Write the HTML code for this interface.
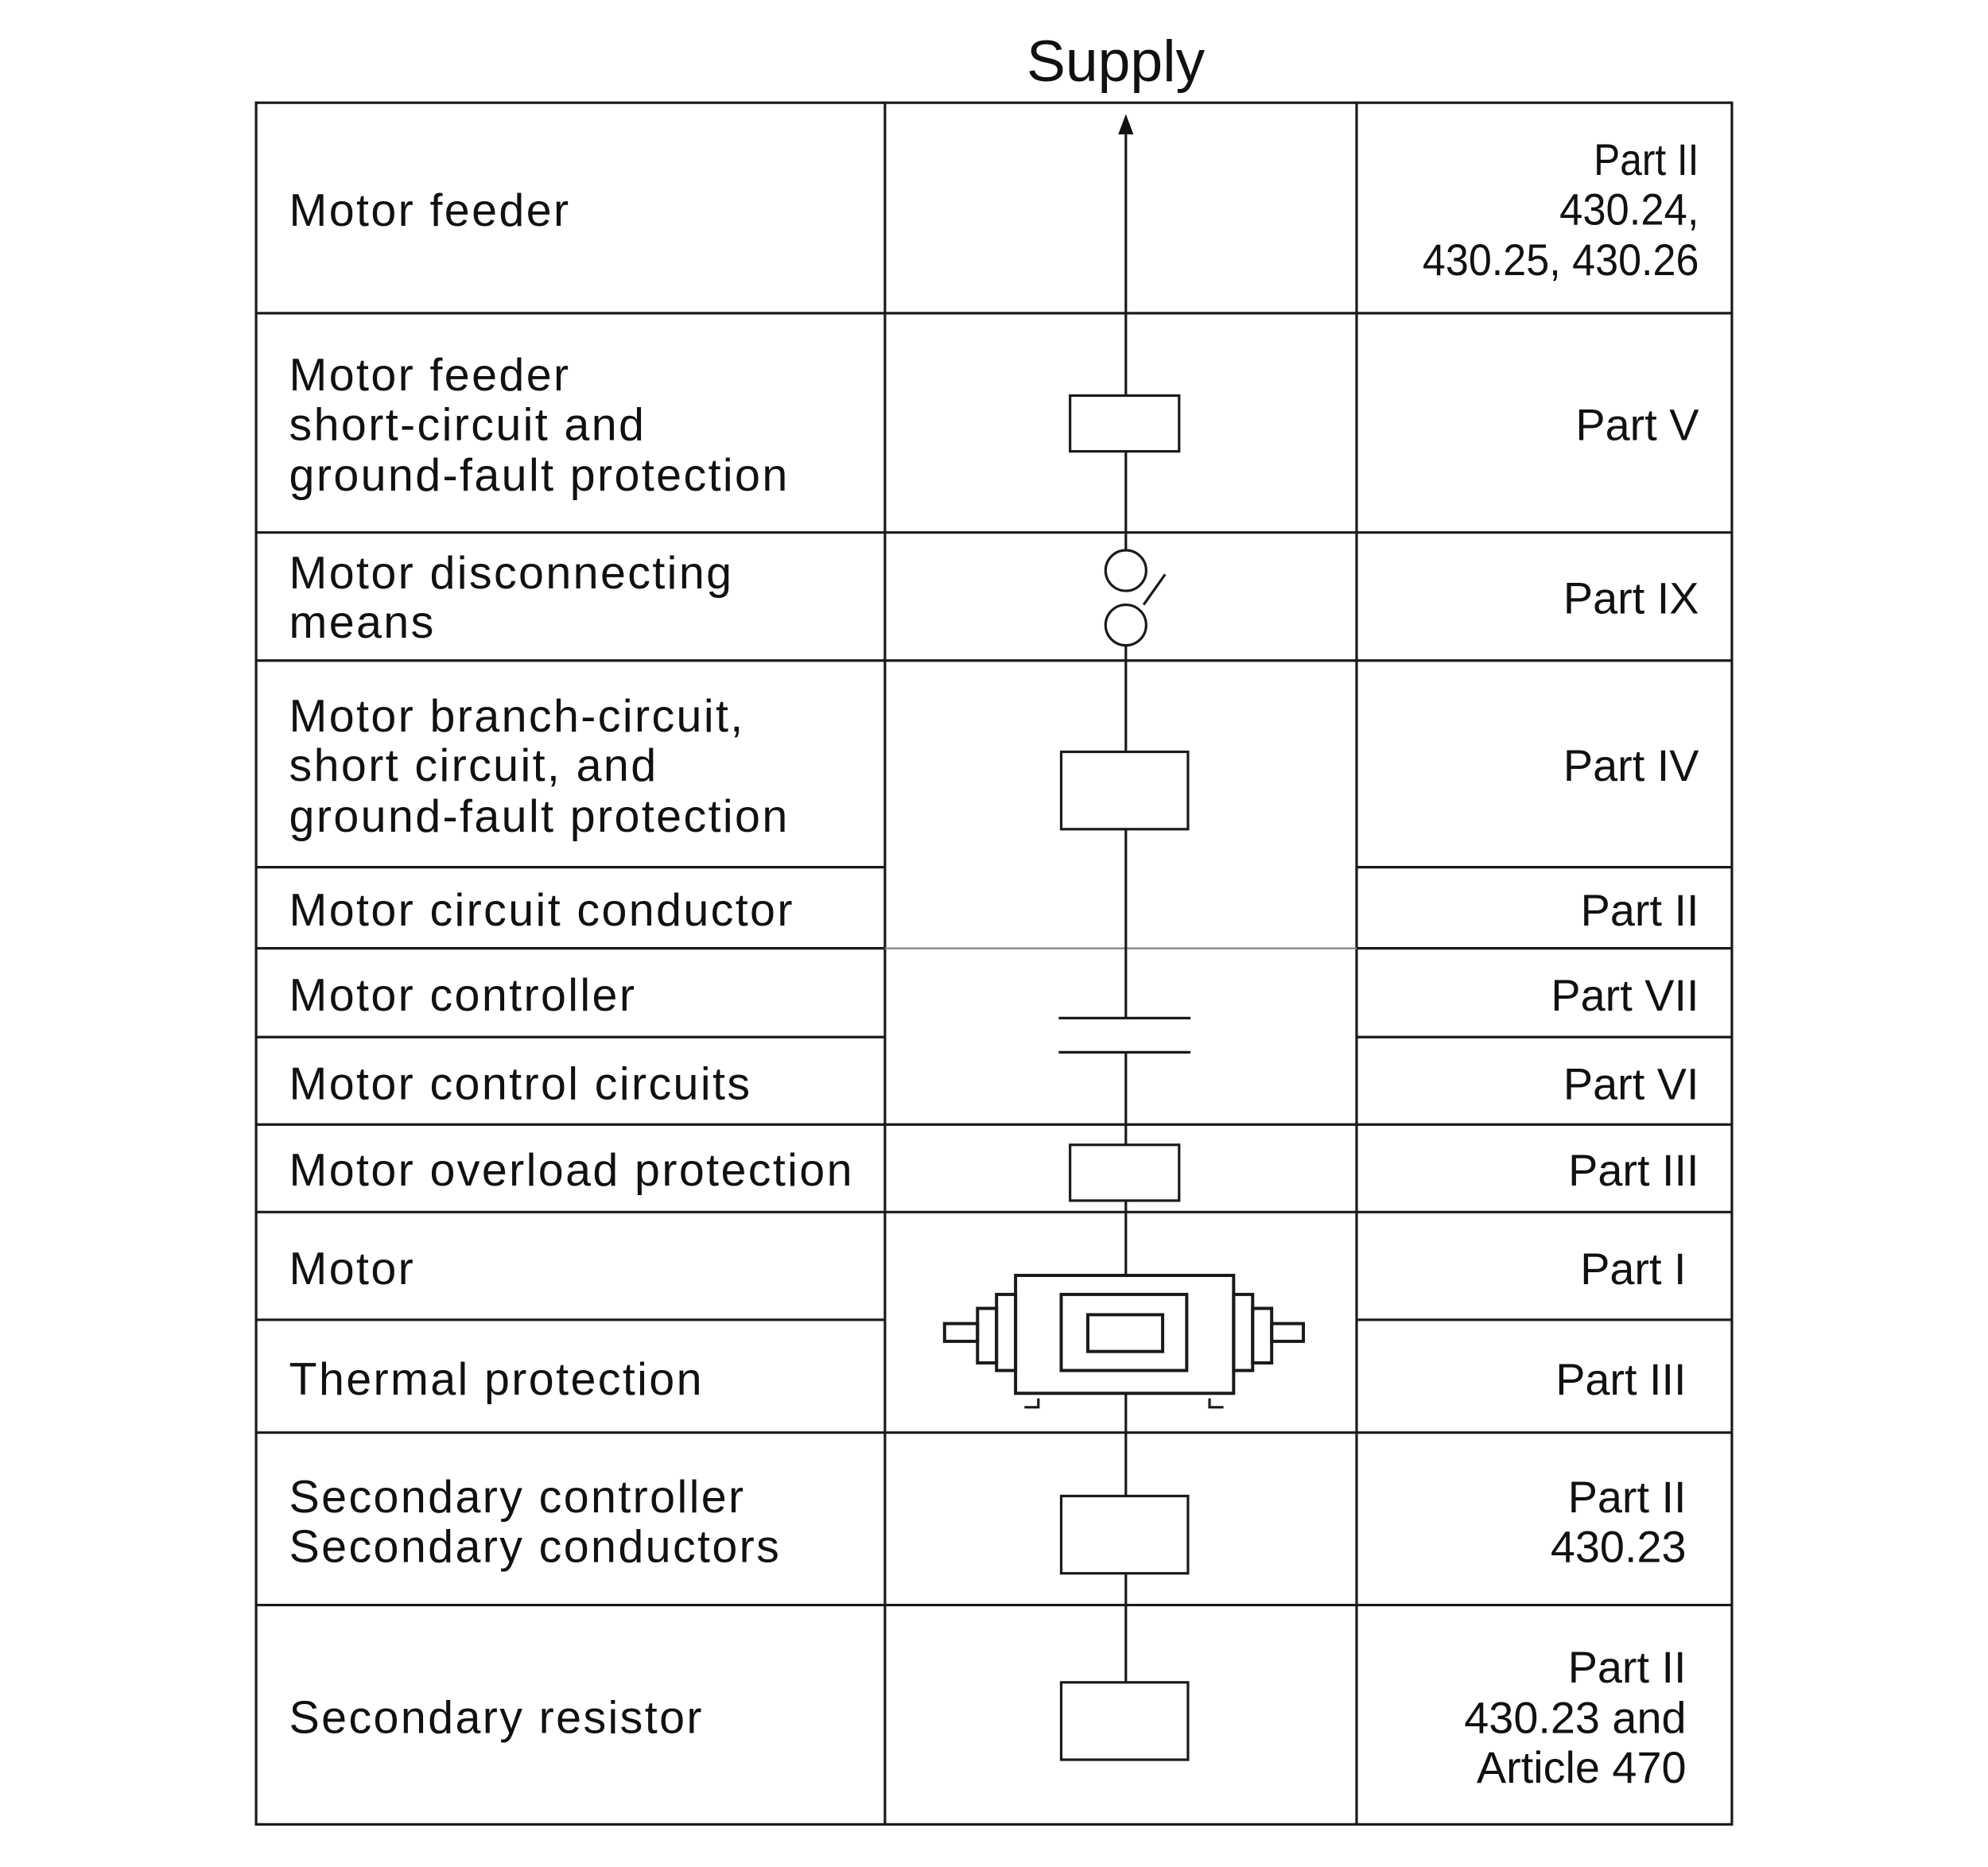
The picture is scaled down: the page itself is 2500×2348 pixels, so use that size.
<!DOCTYPE html>
<html><head><meta charset="utf-8"><style>html,body{margin:0;padding:0;background:#fff}svg{display:block}</style></head>
<body>
<svg width="2500" height="2348" viewBox="0 0 1568 1472.6" xmlns="http://www.w3.org/2000/svg" font-family="Liberation Sans, sans-serif" fill="#111">
<rect width="1568" height="1473" fill="#fff"/>
<g stroke="#1a1a1a" stroke-width="2" fill="none">
<rect x="202" y="81" width="1164" height="1358"/>
<line x1="698" y1="81" x2="698" y2="1439"/>
<line x1="1070" y1="81" x2="1070" y2="1439"/>
<line x1="202" y1="247" x2="1366" y2="247"/>
<line x1="202" y1="420" x2="1366" y2="420"/>
<line x1="202" y1="521" x2="1366" y2="521"/>
<line x1="202" y1="684" x2="698" y2="684"/><line x1="1070" y1="684" x2="1366" y2="684"/>
<line x1="202" y1="748" x2="698" y2="748"/><line x1="1070" y1="748" x2="1366" y2="748"/>
<line x1="698" y1="748" x2="1070" y2="748" stroke="#888" stroke-width="1.5"/>
<line x1="202" y1="818" x2="698" y2="818"/><line x1="1070" y1="818" x2="1366" y2="818"/>
<line x1="202" y1="887" x2="1366" y2="887"/>
<line x1="202" y1="956" x2="1366" y2="956"/>
<line x1="202" y1="1041" x2="698" y2="1041"/><line x1="1070" y1="1041" x2="1366" y2="1041"/>
<line x1="202" y1="1130" x2="1366" y2="1130"/>
<line x1="202" y1="1266" x2="1366" y2="1266"/>
<line x1="888" y1="100" x2="888" y2="312"/>
<line x1="888" y1="356" x2="888" y2="434"/>
<line x1="888" y1="509" x2="888" y2="593"/>
<line x1="888" y1="654" x2="888" y2="803"/>
<line x1="888" y1="830" x2="888" y2="903"/>
<line x1="888" y1="947" x2="888" y2="1006"/>
<line x1="888" y1="1099" x2="888" y2="1180"/>
<line x1="888" y1="1241" x2="888" y2="1327"/>
<rect x="844" y="312" width="86" height="44"/>
<circle cx="888" cy="450" r="16"/>
<circle cx="888" cy="493" r="16"/>
<line x1="902" y1="477" x2="919" y2="453"/>
<rect x="837" y="593" width="100" height="61"/>
<line x1="835" y1="803" x2="939" y2="803"/>
<line x1="835" y1="830" x2="939" y2="830"/>
<rect x="844" y="903" width="86" height="44"/>
<rect x="801" y="1006" width="172" height="93" stroke-width="2.5"/>
<rect x="837" y="1021" width="99" height="60" stroke-width="2.5"/>
<rect x="858" y="1037" width="59" height="29" stroke-width="2.5"/>
<rect x="786" y="1021" width="15" height="60" stroke-width="2.5"/>
<rect x="771" y="1032" width="15" height="43" stroke-width="2.5"/>
<rect x="745" y="1044" width="26" height="14" stroke-width="2.5"/>
<rect x="973" y="1021" width="15" height="60" stroke-width="2.5"/>
<rect x="988" y="1032" width="15" height="43" stroke-width="2.5"/>
<rect x="1003" y="1044" width="25" height="14" stroke-width="2.5"/>
<polyline points="808,1110 819,1110 819,1103"/>
<polyline points="954,1103 954,1110 965,1110"/>
<rect x="837" y="1180" width="100" height="61"/>
<rect x="837" y="1327" width="100" height="61"/>
</g>
<polygon points="888,90 882,106 894,106" fill="#111"/>
<text x="880" y="64" font-size="46" text-anchor="middle">Supply</text>
<g font-size="36" letter-spacing="1.5">
<text x="228" y="178">Motor feeder</text>
<text x="228" y="308">Motor feeder</text>
<text x="228" y="347">short-circuit and</text>
<text x="228" y="387">ground-fault protection</text>
<text x="228" y="464">Motor disconnecting</text>
<text x="228" y="503">means</text>
<text x="228" y="577">Motor branch-circuit,</text>
<text x="228" y="616">short circuit, and</text>
<text x="228" y="656">ground-fault protection</text>
<text x="228" y="730">Motor circuit conductor</text>
<text x="228" y="797">Motor controller</text>
<text x="228" y="867">Motor control circuits</text>
<text x="228" y="935">Motor overload protection</text>
<text x="228" y="1013">Motor</text>
<text x="228" y="1100">Thermal protection</text>
<text x="228" y="1193">Secondary controller</text>
<text x="228" y="1232">Secondary conductors</text>
<text x="228" y="1367">Secondary resistor</text>
</g>
<g font-size="35" text-anchor="end">
<text x="1340" y="138" textLength="83" lengthAdjust="spacingAndGlyphs">Part II</text>
<text x="1340" y="177" textLength="110" lengthAdjust="spacingAndGlyphs">430.24,</text>
<text x="1340" y="217" textLength="218" lengthAdjust="spacingAndGlyphs">430.25, 430.26</text>
<text x="1340" y="347">Part V</text>
<text x="1340" y="484">Part IX</text>
<text x="1340" y="616">Part IV</text>
<text x="1340" y="730">Part II</text>
<text x="1340" y="797">Part VII</text>
<text x="1340" y="867">Part VI</text>
<text x="1340" y="935">Part III</text>
<text x="1330" y="1013">Part I</text>
<text x="1330" y="1100">Part III</text>
<text x="1330" y="1193">Part II</text>
<text x="1330" y="1232">430.23</text>
<text x="1330" y="1327">Part II</text>
<text x="1330" y="1367">430.23 and</text>
<text x="1330" y="1406">Article 470</text>
</g>
</svg>
</body></html>
